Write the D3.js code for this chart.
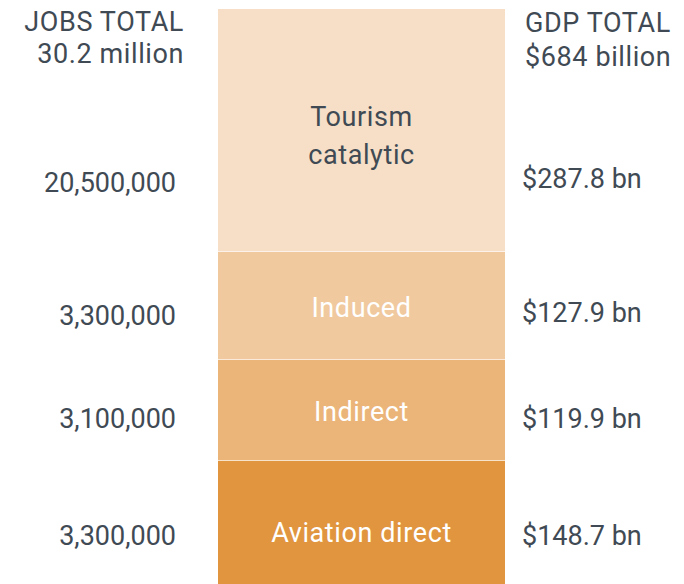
<!DOCTYPE html>
<html>
<head>
<meta charset="utf-8">
<script src="https://cdn.jsdelivr.net/npm/d3@7"></script>
<style>
    html, body { margin: 0; padding: 0; background: #fff; }
    svg { display: block; }
    text { font-family: Roboto, "Noto Sans", sans-serif; }
    .wide { letter-spacing: 0.6px; }
</style>
</head>
<body>
<div id="chart"></div>
<script>
// segments, bottom to top
var segments = ["Aviation direct", "Indirect", "Induced", "Tourism catalytic"];
var gdpValues = [148.7, 119.9, 127.9, 287.8];
var jobLabels = ["3,300,000", "3,100,000", "3,300,000", "20,500,000"];
var gdpLabels = ["$148.7 bn", "$119.9 bn", "$127.9 bn", "$287.8 bn"];
var colors = ["#e0953e", "#ebb478", "#f0c99e", "#f6dfc6"];
var jobsHeader = ["JOBS TOTAL", "30.2 million"];
var gdpHeader = ["GDP TOTAL", "$684 billion"];

var width = 684, height = 584;
var textColor = "#3f4a54";

var svg = d3.select("#chart").append("svg")
    .attr("width", width)
    .attr("height", height);

var stacked = [];
var acc = 0;
gdpValues.forEach(function (v, i) {
    stacked.push({ name: segments[i], y0: acc, y1: acc + v, i: i });
    acc += v;
});

var y = d3.scaleLinear().domain([0, d3.sum(gdpValues)]).range([586, 9]);
var x = d3.scaleBand().domain(["total"]).range([218, 505]).padding(0);

svg.selectAll("rect.seg")
    .data(stacked)
    .enter().append("rect")
    .attr("class", "seg")
    .attr("x", x("total"))
    .attr("width", x.bandwidth())
    .attr("y", function (d) { return y(d.y1); })
    .attr("height", function (d) { return y(d.y0) - y(d.y1); })
    .attr("fill", function (d) { return colors[d.i]; });

// thin light divider between segments
svg.selectAll("line.sep")
    .data(stacked.slice(1))
    .enter().append("line")
    .attr("class", "sep")
    .attr("x1", x("total"))
    .attr("x2", x("total") + x.bandwidth())
    .attr("y1", function (d) { return Math.round(y(d.y0)) - 0.5; })
    .attr("y2", function (d) { return Math.round(y(d.y0)) - 0.5; })
    .attr("stroke", "#fff")
    .attr("stroke-opacity", 0.55)
    .attr("stroke-width", 1);

// layout nudges for the row labels (baseline offset from segment centre)
var sideNudge = [22, 18, 19, 62];
var segNudge = [19, 11, 11, 0];
var mid = function (d) { return (y(d.y0) + y(d.y1)) / 2; };

var cx = x("total") + x.bandwidth() / 2;

svg.selectAll("text.seglabel")
    .data(stacked.filter(function (d) { return d.i < 3; }))
    .enter().append("text")
    .attr("class", "seglabel wide")
    .attr("x", cx)
    .attr("y", function (d) { return mid(d) + segNudge[d.i]; })
    .attr("text-anchor", "middle")
    .attr("fill", "#fff")
    .attr("font-size", 27)
    .text(function (d) { return d.name; });

// tourism label on two lines
var topSeg = stacked[3];
var tl = svg.append("text")
    .attr("class", "wide")
    .attr("x", cx)
    .attr("text-anchor", "middle")
    .attr("fill", textColor)
    .attr("font-size", 27);
tl.selectAll("tspan")
    .data(topSeg.name.split(" "))
    .enter().append("tspan")
    .attr("x", cx)
    .attr("y", function (d, i) { return mid(topSeg) - 4 + i * 38; })
    .text(function (d) { return d; });

svg.selectAll("text.jobs")
    .data(stacked)
    .enter().append("text")
    .attr("class", "jobs")
    .attr("x", 176)
    .attr("y", function (d) { return mid(d) + sideNudge[d.i]; })
    .attr("text-anchor", "end")
    .attr("fill", textColor)
    .attr("font-size", 27)
    .text(function (d) { return jobLabels[d.i]; });

svg.selectAll("text.gdp")
    .data(stacked)
    .enter().append("text")
    .attr("class", "gdp")
    .attr("x", 522)
    .attr("y", function (d) { return mid(d) + sideNudge[d.i] - (d.i === 3 ? 4 : d.i === 2 ? 3 : 0); })
    .attr("fill", textColor)
    .attr("font-size", 27)
    .text(function (d) { return gdpLabels[d.i]; });

svg.selectAll("text.jh")
    .data(jobsHeader)
    .enter().append("text")
    .attr("class", "jh wide")
    .attr("x", 184)
    .attr("y", function (d, i) { return i === 0 ? 31 : 63; })
    .attr("text-anchor", "end")
    .attr("fill", textColor)
    .attr("font-size", 27)
    .text(function (d) { return d; });

svg.selectAll("text.gh")
    .data(gdpHeader)
    .enter().append("text")
    .attr("class", "gh wide")
    .attr("x", 525)
    .attr("y", function (d, i) { return i === 0 ? 32 : 66; })
    .attr("fill", textColor)
    .attr("font-size", 27)
    .text(function (d) { return d; });
</script>
</body>
</html>
